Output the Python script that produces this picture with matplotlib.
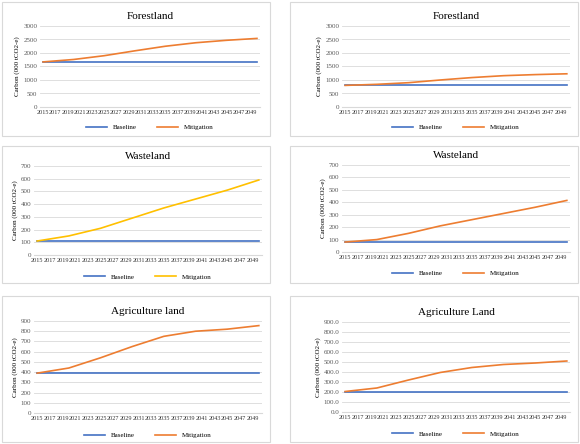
import matplotlib
matplotlib.use("Agg")
import matplotlib.pyplot as plt
from matplotlib.patches import Rectangle
import numpy as np

plt.rcParams['font.family'] = ['Liberation Serif', 'DejaVu Serif']

years = [2015, 2020, 2025, 2030, 2035, 2040, 2045, 2050]
tick_years = list(range(2015, 2050, 2))

fl_left_base = [1670] * 8
fl_left_mit = [1670, 1760, 1900, 2080, 2250, 2380, 2470, 2540]
fl_right_base = [800] * 8
fl_right_mit = [800, 840, 900, 1000, 1090, 1160, 1200, 1230]
wl_left_base = [110] * 8
wl_left_mit = [110, 150, 210, 290, 370, 440, 510, 590]
wl_right_base = [80] * 8
wl_right_mit = [80, 100, 150, 210, 260, 310, 360, 415]
al_left_base = [390] * 8
al_left_mit = [390, 440, 540, 650, 750, 800, 820, 855]
al_right_base = [205] * 8
al_right_mit = [205, 240, 320, 395, 445, 475, 490, 510]

panels = [
    ("Forestland", fl_left_base, fl_left_mit, 3000, 500, "{:.0f}", "#ED7D31", (2, 2, 270, 136), (38, 24, 258, 105)),
    ("Forestland", fl_right_base, fl_right_mit, 3000, 500, "{:.0f}", "#ED7D31", (310, 2, 578, 136), (52, 24, 280, 105)),
    ("Wasteland", wl_left_base, wl_left_mit, 700, 100, "{:.0f}", "#FFC000", (2, 146, 270, 283), (32, 20, 260, 109)),
    ("Wasteland", wl_right_base, wl_right_mit, 700, 100, "{:.0f}", "#ED7D31", (310, 146, 578, 283), (52, 19, 280, 106)),
    ("Agriculture land", al_left_base, al_left_mit, 900, 100, "{:.0f}", "#ED7D31", (2, 296, 270, 442), (32, 25, 260, 117)),
    ("Agriculture Land", al_right_base, al_right_mit, 900, 100, "{:.1f}", "#ED7D31", (310, 296, 578, 442), (52, 26, 280, 116)),
]

W, H = 580, 444
fig = plt.figure(figsize=(5.8, 4.44), dpi=100)
fig.patch.set_facecolor('white')

for title, base, mit, ymax, step, fmt, mc, box, ab in panels:
    bx0, by0, bx1, by1 = box
    if bx0 > 300:
        bx0 -= 20
    fig.patches.append(Rectangle((bx0 / W, 1 - by1 / H), (bx1 - bx0) / W, (by1 - by0) / H,
                                 transform=fig.transFigure, fill=False, ec='#D9D9D9', lw=0.8))
    ax0, ay0, ax1, ay1 = ab
    left = (bx0 + ax0) / W
    right = (bx0 + ax1) / W
    top = 1 - (by0 + ay0) / H
    bottom = 1 - (by0 + ay1) / H
    ax = fig.add_axes([left, bottom, right - left, top - bottom])
    ax.plot(years, base, color='#4472C4', lw=1.2, label='Baseline')
    ax.plot(years, mit, color=mc, lw=1.2, label='Mitigation')
    ax.set_xlim(2014.5, 2050.5)
    ax.set_ylim(0, ymax)
    yt = np.arange(0, ymax + 1, step)
    ax.set_yticks(yt)
    ax.set_yticklabels([fmt.format(v) for v in yt], fontsize=5, color='#595959')
    ax.set_xticks(tick_years)
    ax.set_xticklabels([str(y) for y in tick_years], fontsize=4.4, color='#333333')
    ax.grid(axis='y', color='#D9D9D9', lw=0.6)
    ax.set_axisbelow(True)
    for s in ['top', 'right', 'left']:
        ax.spines[s].set_visible(False)
    ax.spines['bottom'].set_color('#D9D9D9')
    ax.tick_params(length=0, pad=2)
    ax.set_ylabel("Carbon (000 tCO2-e)", fontsize=5, labelpad=2)
    ax.set_title(title, fontsize=8, pad=5)
    ax.legend(loc='upper center', bbox_to_anchor=(0.5, -0.14), ncol=2, frameon=False,
              fontsize=5, handlelength=3, columnspacing=3)

fig.savefig("out.png", dpi=100)
